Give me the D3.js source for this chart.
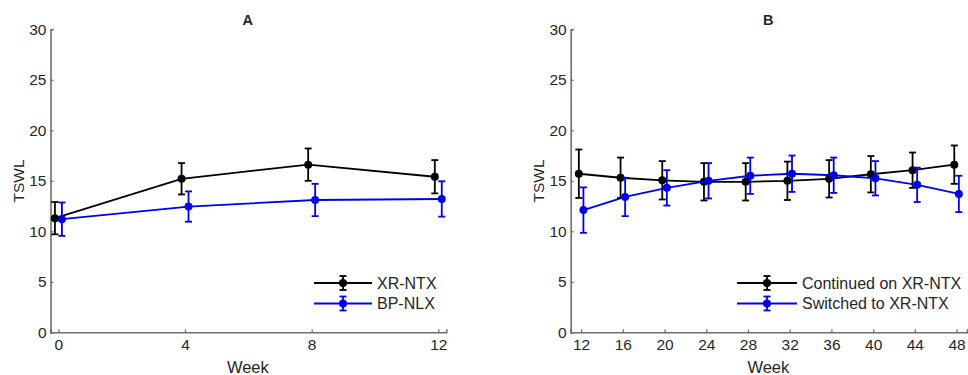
<!DOCTYPE html>
<html>
<head>
<meta charset="utf-8">
<script src="https://cdn.jsdelivr.net/npm/d3@7"></script>
<style>
  body { margin: 0; background: #fff; }
  svg { display: block; font-family: "Liberation Sans", Arial, sans-serif; }
</style>
</head>
<body>
<svg id="chart" width="968" height="375"></svg>
<script>
// panel A: weeks 0-12
var weeksA = [0, 4, 8, 12]
var xrMeanA = [11.3, 15.2, 16.6, 15.4]
var xrErrA = [1.6, 1.55, 1.6, 1.65]
var bpMeanA = [11.2, 12.45, 13.1, 13.2]
var bpErrA = [1.65, 1.5, 1.6, 1.75]

// panel B: weeks 12-48
var weeksB = [12, 16, 20, 24, 28, 32, 36, 40, 44, 48]
var contMeanB = [15.7, 15.3, 15.05, 14.9, 14.9, 15.0, 15.2, 15.65, 16.05, 16.6]
var contErrB = [2.4, 2.0, 1.9, 1.85, 1.85, 1.9, 1.85, 1.8, 1.75, 1.9]
var swMeanB = [12.1, 13.4, 14.3, 15.0, 15.5, 15.7, 15.55, 15.25, 14.6, 13.7]
var swErrB = [2.25, 1.9, 1.75, 1.75, 1.8, 1.8, 1.75, 1.7, 1.7, 1.8]

var yTicks = [0, 5, 10, 15, 20, 25, 30]

var BLACK = '#000000'
var BLUE = '#0000e6'
var AXIS = '#6e6e6e'
var TEXT = '#262626'

var svg = d3.select('#chart')

var panels = [
  {
    title: 'A', left: 50.5, right: 446.2, domain: [-0.25, 12.25], weeks: weeksA,
    shift: 0.11,
    series: [
      {name: 'XR-NTX', color: BLACK, mean: xrMeanA, err: xrErrA, dir: -1},
      {name: 'BP-NLX', color: BLUE, mean: bpMeanA, err: bpErrA, dir: 1}
    ],
    legend: {x0: 314, x1: 372, tx: 377}
  },
  {
    title: 'B', left: 570.7, right: 967, domain: [11, 49], weeks: weeksB,
    shift: 0.22,
    series: [
      {name: 'Continued on XR-NTX', color: BLACK, mean: contMeanB, err: contErrB, dir: -1},
      {name: 'Switched to XR-NTX', color: BLUE, mean: swMeanB, err: swErrB, dir: 1}
    ],
    legend: {x0: 737, x1: 797, tx: 802}
  }
]

var plotTop = 29.3, plotBottom = 332.3

panels.forEach(function(p){
  var x = d3.scaleLinear().domain(p.domain).range([p.left, p.right])
  var y = d3.scaleLinear().domain([0, 30]).range([plotBottom, plotTop])
  var g = svg.append('g')

  // axes (ticks point inward)
  var xAxis = g.append('g')
    .attr('transform', 'translate(0,' + plotBottom + ')')
    .call(d3.axisBottom(x).tickValues(p.weeks).tickSize(-3).tickPadding(7))
  var yAxis = g.append('g')
    .attr('transform', 'translate(' + p.left + ',0)')
    .call(d3.axisLeft(y).tickValues(yTicks).tickSize(-3).tickPadding(4))

  ;[xAxis, yAxis].forEach(function(ax){
    ax.select('.domain').attr('stroke', AXIS).attr('stroke-width', 1.6)
    ax.selectAll('.tick line').attr('stroke', AXIS).attr('stroke-width', 1.2)
    ax.selectAll('.tick text').attr('fill', TEXT).style('font-size', '15.5px')
  })

  // titles and axis labels
  var mid = (p.left + p.right) / 2
  g.append('text').attr('x', mid - 0.5).attr('y', 25)
    .attr('text-anchor', 'middle').attr('font-weight', 'bold')
    .style('font-size', '14.5px').attr('fill', TEXT).text(p.title)
  g.append('text').attr('x', mid - 0.5).attr('y', 373)
    .attr('text-anchor', 'middle')
    .style('font-size', '16.5px').attr('fill', TEXT).text('Week')
  g.append('text')
    .attr('transform', 'translate(' + (p.left - 27) + ',181) rotate(-90)')
    .attr('text-anchor', 'middle')
    .style('font-size', '15.5px').attr('fill', TEXT).text('TSWL')

  // series with error bars
  p.series.forEach(function(s){
    var pts = p.weeks.map(function(w, i){
      return {w: w + s.dir * p.shift, m: s.mean[i], e: s.err[i]}
    })
    var line = d3.line().x(function(d){ return x(d.w) }).y(function(d){ return y(d.m) })
    g.append('path').datum(pts)
      .attr('d', line).attr('fill', 'none')
      .attr('stroke', s.color).attr('stroke-width', 1.8)

    var eb = g.selectAll(null).data(pts).enter().append('g')
    eb.append('line')
      .attr('x1', function(d){ return x(d.w) }).attr('x2', function(d){ return x(d.w) })
      .attr('y1', function(d){ return y(d.m + d.e) }).attr('y2', function(d){ return y(d.m - d.e) })
      .attr('stroke', s.color).attr('stroke-width', 1.8)
    ;[1, -1].forEach(function(sign){
      eb.append('line')
        .attr('x1', function(d){ return x(d.w) - 3.5 }).attr('x2', function(d){ return x(d.w) + 3.5 })
        .attr('y1', function(d){ return y(d.m + sign * d.e) }).attr('y2', function(d){ return y(d.m + sign * d.e) })
        .attr('stroke', s.color).attr('stroke-width', 1.8)
    })
    eb.append('circle')
      .attr('cx', function(d){ return x(d.w) }).attr('cy', function(d){ return y(d.m) })
      .attr('r', 4).attr('fill', s.color)
  })

  // legend
  var lg = p.legend
  p.series.forEach(function(s, i){
    var ly = 283 + i * 20.5
    var lx = (lg.x0 + lg.x1) / 2
    g.append('line').attr('x1', lg.x0).attr('x2', lg.x1).attr('y1', ly).attr('y2', ly)
      .attr('stroke', s.color).attr('stroke-width', 1.8)
    g.append('line').attr('x1', lx).attr('x2', lx).attr('y1', ly - 7).attr('y2', ly + 7)
      .attr('stroke', s.color).attr('stroke-width', 1.8)
    ;[-7, 7].forEach(function(o){
      g.append('line').attr('x1', lx - 3.5).attr('x2', lx + 3.5).attr('y1', ly + o).attr('y2', ly + o)
        .attr('stroke', s.color).attr('stroke-width', 1.8)
    })
    g.append('circle').attr('cx', lx).attr('cy', ly).attr('r', 4).attr('fill', s.color)
    g.append('text').attr('x', lg.tx).attr('y', ly).attr('dy', '0.35em')
      .style('font-size', '16px').attr('fill', TEXT).text(s.name)
  })
})
</script>
</body>
</html>
